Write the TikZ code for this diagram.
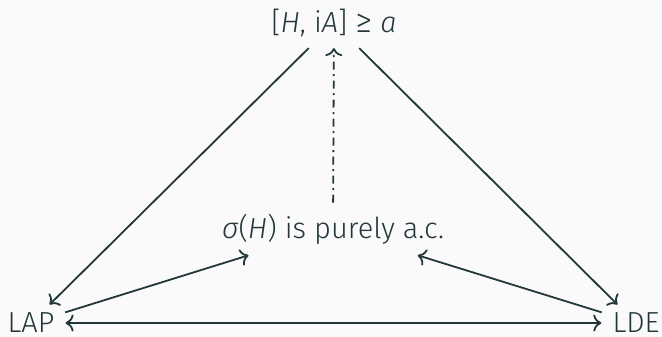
\documentclass[tikz,border=0pt]{standalone}
\usepackage{fontspec}
\usetikzlibrary{arrows.meta}
\setmainfont{Fira Sans}[UprightFont={* Light},ItalicFont={* Light Italic}]
\begin{document}
\begin{tikzpicture}[x=1pt,y=-1pt,
  every node/.style={text=ink,font=\fontsize{29}{33}\selectfont,inner sep=11pt},
  corner/.style={inner sep=2pt},
  tip/.tip={Computer Modern Rightarrow[length=8pt,width=17pt]},
  conn/.style={draw=ink,line width=1.8pt,-tip},
  bothconn/.style={draw=ink,line width=1.8pt,tip-tip},
  dashdot/.style={dash pattern=on 8pt off 4.5pt on 2pt off 4.5pt}]
\definecolor{ink}{HTML}{23373B}
\definecolor{bg}{HTML}{FAFAFA}
\fill[bg] (0,0) rectangle (662,337);
\useasboundingbox (0,0) rectangle (662,337);
\node (top) at (334,23) {[\textit{H}, i\textit{A}] {\fontsize{34}{34}\selectfont ≥} \textit{a}};
\node (mid) at (333,229) {\textit{σ}(\textit{H}) is purely a.c.};
\node[corner] (lap) at (31,323) {LAP};
\node[corner] (lde) at (636,323) {LDE};
\draw[conn,shorten >=9pt] (top) -- (lap);
\draw[conn,shorten >=9pt] (top) -- (lde);
\draw[conn,dashdot] (mid) -- (top);
\draw[conn,shorten <=9pt] (lap) -- (mid);
\draw[conn,shorten <=9pt] (lde) -- (mid);
\draw[bothconn,shorten <=9pt,shorten >=9pt] (lap) -- (lde);
\end{tikzpicture}
\end{document}
